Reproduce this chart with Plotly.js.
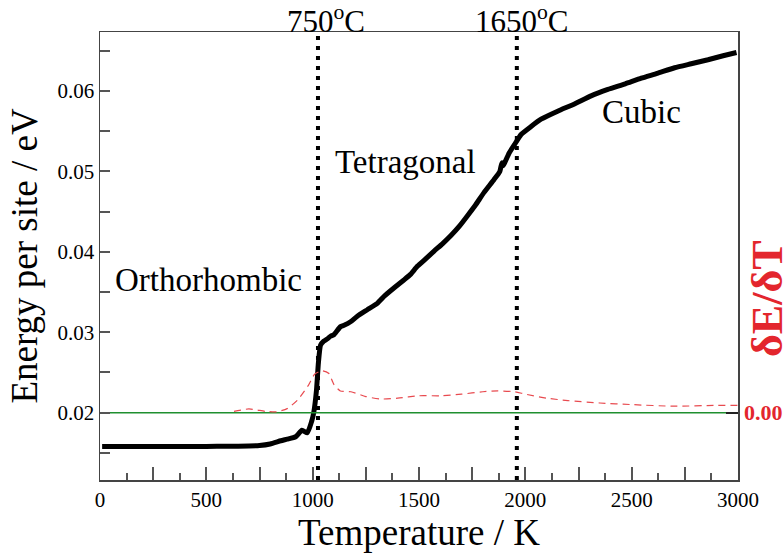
<!DOCTYPE html>
<html>
<head>
<meta charset="utf-8">
<script src="https://cdn.plot.ly/plotly-3.0.1.min.js"></script>
<style>html,body{margin:0;padding:0;background:#fff;}#chart{width:784px;height:558px;}</style>
</head>
<body>
<div id="chart"></div>
<script>
// Energy per site (eV) vs temperature (K)
const tempK = [10, 100, 200, 300, 400, 500, 600, 700, 750, 800, 850, 880, 920, 950, 975, 995, 1005, 1018, 1027, 1037, 1052, 1070, 1084, 1100, 1131, 1150, 1178, 1210, 1257, 1304, 1335, 1382, 1429, 1460, 1492, 1530, 1571, 1610, 1649, 1690, 1728, 1765, 1806, 1853, 1880, 1890, 1895, 1924, 1948, 1980, 2027, 2074, 2152, 2231, 2309, 2388, 2470, 2545, 2620, 2702, 2780, 2859, 2930, 2993];
const energy = [0.0158, 0.0158, 0.0158, 0.0158, 0.0158, 0.0158, 0.01582, 0.01585, 0.0159, 0.0161, 0.0165, 0.0167, 0.0170, 0.0178, 0.0175, 0.0189, 0.0200, 0.0228, 0.0262, 0.0284, 0.0289, 0.0292, 0.0295, 0.0297, 0.0307, 0.0309, 0.0313, 0.0320, 0.0328, 0.0336, 0.03445, 0.0355, 0.0365, 0.0372, 0.0382, 0.0391, 0.0401, 0.0410, 0.0420, 0.0432, 0.0445, 0.0458, 0.0474, 0.0490, 0.0500, 0.0511, 0.0507, 0.0523, 0.0533, 0.0546, 0.0556, 0.0565, 0.0575, 0.0584, 0.0594, 0.0602, 0.0609, 0.0616, 0.0622, 0.0629, 0.0634, 0.0639, 0.0644, 0.0648];

// dE/dT (arbitrary units, zero aligned with 0.02 eV on the left axis)
const derivT = [630, 700, 780, 830, 880, 930, 980, 1010, 1045, 1075, 1100, 1130, 1180, 1250, 1320, 1400, 1500, 1600, 1700, 1800, 1870, 1950, 2000, 2100, 2200, 2350, 2500, 2700, 2900, 3000];
const derivVal = [0.00015, 0.00046, 0.00015, 0.0001, 0.0005, 0.0016, 0.0034, 0.0048, 0.0052, 0.0049, 0.0035, 0.0027, 0.0026, 0.0020, 0.0017, 0.0018, 0.0021, 0.0021, 0.0023, 0.0026, 0.0027, 0.0026, 0.0023, 0.0018, 0.0015, 0.0012, 0.0010, 0.0008, 0.0009, 0.0009];

const zeroLineT = [0, 3000];
const zeroLineVal = [0, 0];

const transitionT = [1025, 1960];
const transitionLabels = ['750<sup>o</sup>C', '1650<sup>o</sup>C'];
const transitionLabelT = [1065, 1983];

const phaseNames = ['Orthorhombic', 'Tetragonal', 'Cubic'];
const phaseT = [509, 1437, 2545];
const phaseE = [0.0365, 0.0512, 0.05745];

const xTickVals = [0, 250, 500, 750, 1000, 1250, 1500, 1750, 2000, 2250, 2500, 2750, 3000];
const xTickText = ['0', '', '500', '', '1000', '', '1500', '', '2000', '', '2500', '', '3000'];
const yTickVals = [0.015, 0.02, 0.025, 0.03, 0.035, 0.04, 0.045, 0.05, 0.055, 0.06, 0.065];
const yTickText = ['', '0.02', '', '0.03', '', '0.04', '', '0.05', '', '0.06', ''];
const y2TickVals = [0];
const y2TickText = ['0.00'];

const serif = 'Liberation Serif';
const yMin = 0.01162, yMax = 0.06735, yOffset = 0.02;

const traces = [
  {x: zeroLineT, y: zeroLineVal, yaxis: 'y2', mode: 'lines', line: {color: '#1f8f2f', width: 1.5}, hoverinfo: 'skip', showlegend: false},
  {x: derivT, y: derivVal, yaxis: 'y2', mode: 'lines', line: {color: '#e84a4f', width: 1.2, dash: '7px,5px', shape: 'spline', smoothing: 0.6}, showlegend: false},
  {x: tempK, y: energy, mode: 'lines', line: {color: '#000', width: 5, shape: 'spline', smoothing: 0.5}, showlegend: false}
];

const shapes = transitionT.map(t => ({
  type: 'line', xref: 'x', yref: 'paper', x0: t, x1: t, y0: 0, y1: 1,
  line: {color: '#000', width: 4, dash: '4px,6px'}
}));

const annotations = [];
transitionT.forEach((t, i) => annotations.push({
  x: transitionLabelT[i], xref: 'x', y: 1.028, yref: 'paper', text: transitionLabels[i],
  showarrow: false, font: {family: serif, size: 31, color: '#000'}, xanchor: 'center', yanchor: 'middle'
}));
phaseNames.forEach((n, i) => annotations.push({
  x: phaseT[i], xref: 'x', y: phaseE[i], yref: 'y', text: n,
  showarrow: false, font: {family: serif, size: 33, color: '#000'}, xanchor: 'center', yanchor: 'middle'
}));
annotations.push({
  x: 1, xref: 'paper', xshift: 29, y: 0.404, yref: 'paper', text: '<b>δE/δT</b>', textangle: -90,
  showarrow: false, font: {family: serif, size: 44, color: '#e3262d'}, xanchor: 'center', yanchor: 'middle'
});

const layout = {
  width: 784, height: 558,
  margin: {l: 100, r: 46, t: 32, b: 78},
  paper_bgcolor: '#fff', plot_bgcolor: '#fff',
  font: {family: serif, color: '#000'},
  xaxis: {
    range: [0, 3000], tickmode: 'array', tickvals: xTickVals, ticktext: xTickText,
    ticks: 'inside', ticklen: 13, tickwidth: 2, tickcolor: '#555',
    minor: {dtick: 125, tick0: 0, ticks: 'inside', ticklen: 7, tickwidth: 2, tickcolor: '#555'},
    showline: true, linecolor: '#444', linewidth: 1.5, mirror: true, showgrid: false, zeroline: false,
    tickfont: {family: serif, size: 21, color: '#000'},
    title: {text: 'Temperature / K', font: {family: serif, size: 37, color: '#000'}, standoff: 6}
  },
  yaxis: {
    range: [yMin, yMax], tickmode: 'array', tickvals: yTickVals, ticktext: yTickText,
    ticks: 'inside', ticklen: 10, tickwidth: 2, tickcolor: '#555',
    showline: true, linecolor: '#444', linewidth: 1.5, mirror: true, showgrid: false, zeroline: false,
    tickfont: {family: serif, size: 21, color: '#000'},
    title: {text: 'Energy per site / eV', font: {family: serif, size: 37, color: '#000'}, standoff: 8}
  },
  yaxis2: {
    overlaying: 'y', side: 'right', range: [yMin - yOffset, yMax - yOffset],
    tickmode: 'array', tickvals: y2TickVals, ticktext: y2TickText,
    ticks: 'inside', ticklen: 12, tickwidth: 2, tickcolor: '#222', ticklabelstandoff: 5,
    showline: false, showgrid: false, zeroline: false,
    tickfont: {family: serif, size: 22, color: '#e3262d', weight: 'bold'}
  },
  shapes: shapes,
  annotations: annotations
};

Plotly.newPlot('chart', traces, layout, {displayModeBar: false, staticPlot: true});
</script>
</body>
</html>
